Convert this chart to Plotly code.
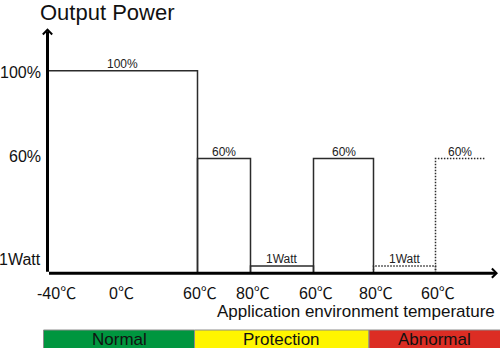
import plotly.graph_objects as go

# ---- data -------------------------------------------------------------
# Step boundaries along the temperature sequence (arbitrary position units)
segment_edges = [0, 30, 40.6, 53.2, 65.2, 77.6, 87.5]
# Output level of each step, in percent of rated output; the standby level
# (1 W) is drawn as a thin step just above the baseline
ONE_WATT_LEVEL = 11.1
segment_levels = [100, 60, ONE_WATT_LEVEL, 60, ONE_WATT_LEVEL, 60]
segment_labels = ["100%", "60%", "1Watt", "60%", "1Watt", "60%"]
segment_dotted = [False, False, False, False, True, True]
segment_right_edge = [True, True, True, True, True, False]

# Temperature labels along the horizontal axis
temp_positions = [1.3, 14.3, 30, 40.6, 53.2, 65.2, 77.6]
temp_labels = ["-40℃", "0℃", "60℃", "80℃", "60℃", "80℃", "60℃"]

# Vertical axis labels
level_values = [100, 60, ONE_WATT_LEVEL]
level_labels = ["100%", "60%", "1Watt"]

# Operating zones shown in the strip under the chart
zone_edges = [-0.8, 29.4, 64.3, 90.6]
zone_names = ["Normal", "Protection", "Abnormal"]
zone_colors = ["#00963f", "#fff500", "#dc2d24"]

BASELINE = 7.8      # value where the horizontal axis sits
Y_TOP = 119.3       # tip of the vertical axis arrow
X_END = 90.1        # tip of the horizontal axis arrow

FONT = "Liberation Sans, Arial, sans-serif"
TEMP_FONT = "Liberation Sans, Noto Sans CJK SC, sans-serif"
LINE_COLOR = "#2b2b2b"

fig = go.Figure()

# ---- step outline -------------------------------------------------------
for i, lvl in enumerate(segment_levels):
    x0, x1 = segment_edges[i], segment_edges[i + 1]
    dash = "1.5px,1.5px" if segment_dotted[i] else "solid"
    xs = [x0, x0, x1]
    ys = [BASELINE, lvl, lvl]
    if i == 0:
        xs, ys = [x0, x1], [lvl, lvl]
    if segment_right_edge[i]:
        xs.append(x1)
        ys.append(BASELINE)
    fig.add_trace(go.Scatter(
        x=xs, y=ys, mode="lines",
        line=dict(color=LINE_COLOR, width=1.5, dash=dash),
        hoverinfo="skip", showlegend=False, cliponaxis=False,
    ))
    fig.add_annotation(
        x=(x0 + x1) / 2, y=lvl, xref="x", yref="y",
        text=segment_labels[i], showarrow=False,
        yanchor="middle", yshift=7,
        font=dict(family=FONT, size=12, color="#222"),
    )

# ---- axes with arrow heads -------------------------------------------------
fig.add_annotation(
    x=0, y=Y_TOP, ax=0, ay=BASELINE, xref="x", yref="y", axref="x", ayref="y",
    text="", showarrow=True, arrowhead=4, arrowsize=0.6, arrowwidth=3,
    arrowcolor="#000", standoff=0, startstandoff=0,
)
fig.add_annotation(
    x=X_END, y=BASELINE, ax=0, ay=BASELINE, xref="x", yref="y", axref="x", ayref="y",
    text="", showarrow=True, arrowhead=4, arrowsize=0.6, arrowwidth=3,
    arrowcolor="#000", standoff=0, startstandoff=0,
)

# ---- axis labels ------------------------------------------------------------
for v, t in zip(level_values, level_labels):
    fig.add_annotation(
        x=0, y=v, xref="x", yref="y", text=t, showarrow=False,
        xanchor="right", yanchor="middle", xshift=-5,
        yshift={100: -1.5, 60: 2.5}.get(v, 6),
        font=dict(family=FONT, size=16, color="#111"),
    )

for p, t in zip(temp_positions, temp_labels):
    fig.add_annotation(
        x=p, y=BASELINE, xref="x", yref="y", text=t, showarrow=False,
        xanchor="center", yanchor="middle", xshift=2, yshift=-20,
        font=dict(family=TEMP_FONT, size=16, color="#111"),
    )

fig.add_annotation(
    x=X_END, y=BASELINE, xref="x", yref="y",
    text="Application environment temperature", showarrow=False,
    xanchor="right", yanchor="middle", xshift=-1, yshift=-38,
    font=dict(family=FONT, size=17, color="#111"),
)

fig.add_annotation(
    x=0, y=1, xref="x", yref="paper", text="Output Power", showarrow=False,
    xanchor="left", yanchor="middle", xshift=-10, yshift=-12,
    font=dict(family=FONT, size=22, color="#111"),
)

# ---- zone strip ---------------------------------------------------------------
strip_top = (348 - 330) / 348
for i, name in enumerate(zone_names):
    fig.add_shape(
        type="rect", xref="x", yref="paper",
        x0=zone_edges[i], x1=zone_edges[i + 1], y0=-0.05, y1=strip_top,
        fillcolor=zone_colors[i], line=dict(color="#8c8c8c", width=1),
        layer="above",
    )
    fig.add_annotation(
        x=(zone_edges[i] + zone_edges[i + 1]) / 2, y=strip_top / 2,
        xref="x", yref="paper", text=name, showarrow=False,
        xanchor="center", yanchor="middle",
        font=dict(family=FONT, size=17, color="#111"),
    )

fig.update_layout(
    width=500, height=348,
    margin=dict(l=0, r=0, t=0, b=0),
    paper_bgcolor="#ffffff", plot_bgcolor="#ffffff",
    xaxis=dict(range=[-9.5, 90.5], visible=False, fixedrange=True),
    yaxis=dict(range=[-26.3, 132.2], visible=False, fixedrange=True),
    showlegend=False,
)

fig.write_html("out.html", config={"displayModeBar": False})
